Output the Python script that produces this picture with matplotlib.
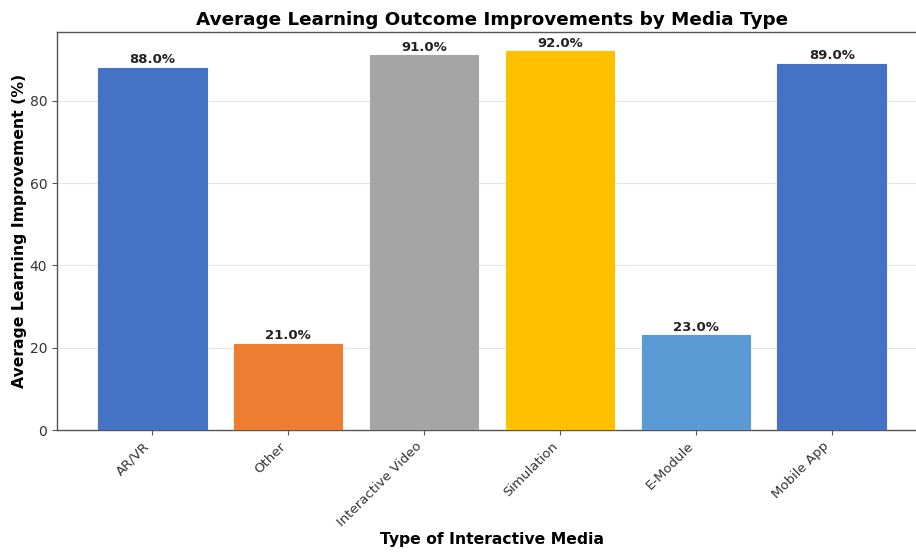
import matplotlib
matplotlib.use("Agg")
import matplotlib.pyplot as plt

categories = ["AR/VR", "Other", "Interactive Video", "Simulation", "E-Module", "Mobile App"]
values = [88.0, 21.0, 91.0, 92.0, 23.0, 89.0]
colors = ["#4472C4", "#ED7D31", "#A5A5A5", "#FFC000", "#5B9BD5", "#4472C4"]

fig = plt.figure(figsize=(9.16, 5.52), dpi=100)
ax = fig.add_axes([57/916, 122/552, (927-57)/916, (430-32)/552])

bars = ax.bar(range(len(categories)), values, width=0.8, color=colors,
              edgecolor=colors, linewidth=0.8, zorder=3)
for b, v in zip(bars, values):
    ax.text(b.get_x() + b.get_width()/2, v + 0.4, f"{v:.1f}%", ha="center", va="bottom",
            fontsize=9.5, fontweight="bold", color="#222222")

ax.set_xticks(range(len(categories)))
ax.set_xticklabels(categories, rotation=45, ha="right", fontsize=9.5, color="#333333")
ax.tick_params(axis="y", labelsize=10, labelcolor="#333333", color="#555555")
ax.tick_params(axis="x", color="#555555")
ax.set_xlim(-0.7, 5.7)
ax.set_ylim(0, 96.7)
ax.set_yticks([0, 20, 40, 60, 80])
ax.yaxis.grid(True, color="#e6e6e6", linewidth=0.8, zorder=0)
ax.set_axisbelow(True)
for s in ["left", "bottom", "top"]:
    ax.spines[s].set_color("#555555")
    ax.spines[s].set_linewidth(1.0)
ax.spines["right"].set_visible(False)

ax.set_title("Average Learning Outcome Improvements by Media Type", fontsize=13.25, fontweight="bold", pad=5)
ax.set_xlabel("Type of Interactive Media", fontsize=11.25, fontweight="bold", labelpad=2)
ax.set_ylabel("Average Learning Improvement (%)", fontsize=11.25, fontweight="bold", labelpad=2)

fig.savefig("out.png", dpi=100)
